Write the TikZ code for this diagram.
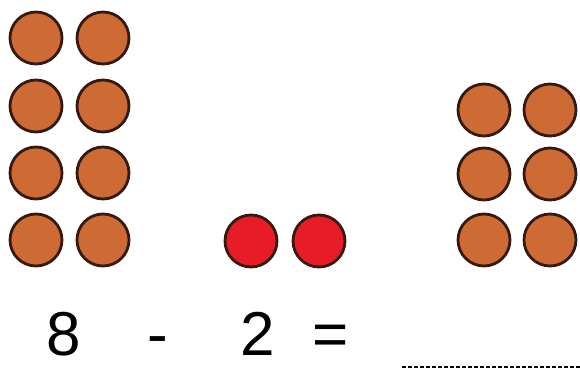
\documentclass[tikz,border=0pt]{standalone}
\usepackage{fontspec}
\setmainfont{Liberation Sans}
\definecolor{counter}{RGB}{206,106,52}
\definecolor{taken}{RGB}{232,28,38}
\definecolor{rim}{RGB}{52,26,16}

\begin{document}
\begin{tikzpicture}[x=1pt, y=1pt, dot/.style={circle, draw=rim, line width=2.8pt, minimum size=52pt, inner sep=0pt}, num/.style={anchor=base, inner sep=0pt, font=\fontsize{62}{62}\selectfont}]
\useasboundingbox (0,0) rectangle (580,369);
\foreach \r/\y in {1/331, 2/263, 3/196, 4/129}{\node[dot, fill=counter] (l-\r-1) at (36,\y) {};\node[dot, fill=counter] (l-\r-2) at (103,\y) {};}
\foreach \c/\x in {1/251, 2/319}{\node[dot, fill=taken] (t-\c) at (\x,128) {};}
\foreach \r/\y in {1/259, 2/195, 3/129}{\node[dot, fill=counter] (r-\r-1) at (484,\y) {};\node[dot, fill=counter] (r-\r-2) at (550,\y) {};}
\node[num] (eight) at (64,14) {8};
\node[num] (minus) at (158,14) {-};
\node[num] (two) at (258,14) {2};
\node[num] (equals) at (331,14) {=};
\coordinate (ans-l) at (402,2);
\coordinate (ans-r) at (580,2);
\draw[line width=2pt, dash pattern=on 4pt off 2pt] (ans-l) -- (ans-r);
\end{tikzpicture}
\end{document}
